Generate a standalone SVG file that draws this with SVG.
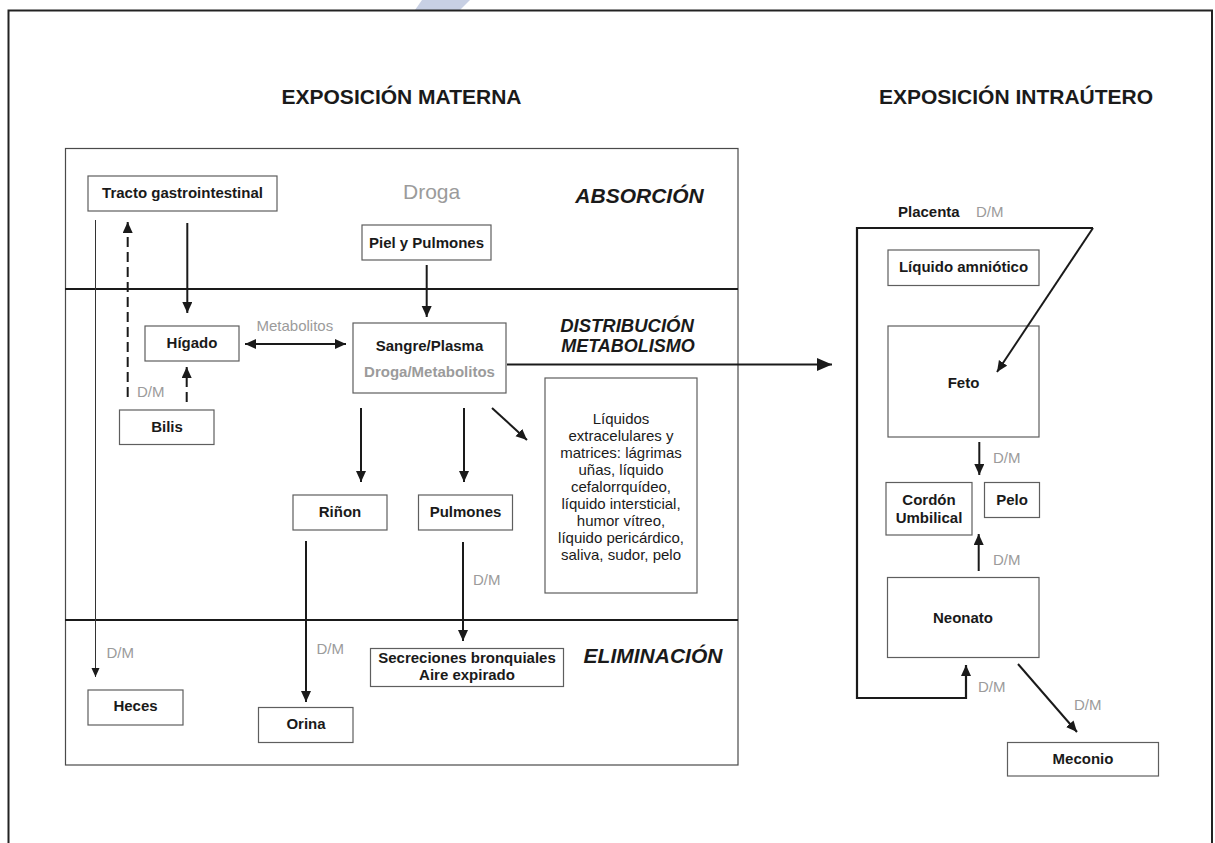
<svg xmlns="http://www.w3.org/2000/svg" width="1215" height="843" viewBox="0 0 1215 843">
<style>
  .t{font-family:"Liberation Sans",Arial,sans-serif;fill:#1a1a1a}
  .b{font-weight:bold;font-size:15px;text-anchor:middle}
  .r{font-size:15px;text-anchor:middle}
  .g{font-family:"Liberation Sans",Arial,sans-serif;fill:#9b9b9b;font-size:15px}
  .h{font-family:"Liberation Sans",Arial,sans-serif;fill:#1a1a1a;font-weight:bold;font-size:21px;text-anchor:middle}
  .sec{font-family:"Liberation Sans",Arial,sans-serif;fill:#1a1a1a;font-weight:bold;font-style:italic;text-anchor:middle}
  .box{fill:#fff;stroke:#5e5e5e;stroke-width:1.2}
  .sep{stroke:#1a1a1a;stroke-width:2;fill:none}
  .a{stroke:#1a1a1a;stroke-width:2;fill:none;marker-end:url(#ah)}
  .ad{stroke:#1a1a1a;stroke-width:2;fill:none;stroke-dasharray:10 5;marker-end:url(#ah)}
  .thin{stroke:#333;stroke-width:1;fill:none;marker-end:url(#ahs)}
</style>
<defs>
  <marker id="ah" markerUnits="userSpaceOnUse" markerWidth="12" markerHeight="12" refX="11" refY="5" orient="auto-start-reverse"><path d="M0,0 L11,5 L0,10 z" fill="#1a1a1a"/></marker>
  <marker id="ahs" markerUnits="userSpaceOnUse" markerWidth="10" markerHeight="10" refX="9" refY="4" orient="auto"><path d="M0,0 L9,4 L0,8 z" fill="#1a1a1a"/></marker>
  <marker id="ahl" markerUnits="userSpaceOnUse" markerWidth="16" markerHeight="14" refX="15" refY="6.5" orient="auto"><path d="M0,0 L15,6.5 L0,13 z" fill="#1a1a1a"/></marker>
</defs>
<rect width="1215" height="843" fill="#fff"/>
<polygon points="422,0 470,0 460,10 415,10" fill="#c8d0e4"/>
<path d="M8.5,843 V10.5 H1212 V843" stroke="#222" stroke-width="2" fill="none"/>

<text class="h" x="401.5" y="104">EXPOSICIÓN MATERNA</text>
<text class="h" x="1016" y="104">EXPOSICIÓN INTRAÚTERO</text>

<g id="maternal-frame">
  <rect x="65.5" y="148.5" width="672.5" height="616.5" fill="none" stroke="#4a4a4a" stroke-width="1.2"/>
  <line class="sep" x1="65" y1="289" x2="738" y2="289"/>
  <line class="sep" x1="65" y1="620" x2="738" y2="620"/>
  <text class="sec" x="639.5" y="203" font-size="21">ABSORCIÓN</text>
  <text class="sec" x="627" y="332" font-size="18.5">DISTRIBUCIÓN</text>
  <text class="sec" x="628" y="352" font-size="18">METABOLISMO</text>
  <text class="sec" x="653" y="663" font-size="21">ELIMINACIÓN</text>
  <text x="403" y="199" font-family="Liberation Sans, Arial, sans-serif" font-size="21" fill="#9b9b9b">Droga</text>
</g>

<g id="tracto"><rect class="box" x="88" y="176" width="189" height="35"/><text class="t b" x="182.5" y="198">Tracto gastrointestinal</text></g>
<g id="piel"><rect class="box" x="362" y="225" width="129" height="35"/><text class="t b" x="426.5" y="248">Piel y Pulmones</text></g>
<g id="higado"><rect class="box" x="145" y="326" width="94" height="35"/><text class="t b" x="192" y="348">Hígado</text></g>
<g id="bilis"><rect class="box" x="119.5" y="410" width="94.5" height="34.5"/><text class="t b" x="167" y="432">Bilis</text></g>
<g id="sangre"><rect class="box" x="353" y="323" width="153" height="70"/><text class="t b" x="429.5" y="351">Sangre/Plasma</text><text class="b" x="429.5" y="377" font-family="Liberation Sans, Arial, sans-serif" fill="#9b9b9b">Droga/Metabolitos</text></g>
<g id="rinon"><rect class="box" x="293" y="495" width="94" height="35"/><text class="t b" x="340" y="517">Riñon</text></g>
<g id="pulmones"><rect class="box" x="418.5" y="495" width="94" height="35"/><text class="t b" x="465.5" y="517">Pulmones</text></g>
<g id="liquidos"><rect class="box" x="545" y="378" width="152" height="215"/>
  <text class="t r" x="621" y="424">Líquidos</text>
  <text class="t r" x="621" y="441">extracelulares y</text>
  <text class="t r" x="621" y="458">matrices: lágrimas</text>
  <text class="t r" x="621" y="475">uñas, líquido</text>
  <text class="t r" x="621" y="492">cefalorrquídeo,</text>
  <text class="t r" x="621" y="509">líquido intersticial,</text>
  <text class="t r" x="621" y="526">humor vítreo,</text>
  <text class="t r" x="621" y="543">líquido pericárdico,</text>
  <text class="t r" x="621" y="560">saliva, sudor, pelo</text>
</g>
<g id="heces"><rect class="box" x="88" y="690" width="95" height="35"/><text class="t b" x="135.5" y="711">Heces</text></g>
<g id="orina"><rect class="box" x="258.5" y="707.5" width="94.5" height="35"/><text class="t b" x="306" y="729">Orina</text></g>
<g id="secreciones"><rect class="box" x="370.5" y="648.5" width="193" height="38"/><text class="t b" x="467" y="663">Secreciones bronquiales</text><text class="t b" x="467" y="680">Aire expirado</text></g>

<g id="placenta"><text class="t" x="898" y="217" font-weight="bold" font-size="15">Placenta</text><text class="g" x="976" y="217">D/M</text></g>
<g id="liquido-amniotico"><rect class="box" x="888" y="250" width="151" height="35.5"/><text class="t b" x="963.5" y="272">Líquido amniótico</text></g>
<g id="feto"><rect class="box" x="888" y="326" width="151" height="111"/><text class="t b" x="963.5" y="388">Feto</text></g>
<g id="cordon"><rect class="box" x="886" y="482.5" width="86" height="52.5"/><text class="t b" x="929" y="505">Cordón</text><text class="t b" x="929" y="522.5">Umbilical</text></g>
<g id="pelo"><rect class="box" x="984.5" y="482.5" width="55" height="35"/><text class="t b" x="1012" y="505">Pelo</text></g>
<g id="neonato"><rect class="box" x="887.5" y="577.5" width="151.5" height="80"/><text class="t b" x="963" y="623">Neonato</text></g>
<g id="meconio"><rect class="box" x="1007.5" y="742.5" width="151" height="33.5"/><text class="t b" x="1083" y="764">Meconio</text></g>

<g id="connectors">
  <line class="a" x1="187.3" y1="223" x2="187.3" y2="313"/>
  <line class="a" x1="426.7" y1="265" x2="426.7" y2="317"/>
  <line class="ad" x1="127.7" y1="397" x2="127.7" y2="222"/>
  <line class="ad" x1="186.7" y1="402" x2="186.7" y2="367"/>
  <line class="a" x1="245" y1="344" x2="346" y2="344" marker-start="url(#ah)"/>
  <line class="thin" x1="95.5" y1="220" x2="95.5" y2="677"/>
  <line class="a" x1="361" y1="408" x2="361" y2="482"/>
  <line class="a" x1="464" y1="408" x2="464" y2="482"/>
  <line class="a" x1="492" y1="408" x2="527" y2="440"/>
  <line class="a" x1="306" y1="541" x2="306" y2="702"/>
  <line class="a" x1="463" y1="542" x2="463" y2="641"/>
  <line x1="507" y1="364.5" x2="832" y2="364.5" stroke="#1a1a1a" stroke-width="2.2" marker-end="url(#ahl)"/>
  <path d="M1093,228 H857 V698 H966 V665" stroke="#1a1a1a" stroke-width="2.2" fill="none" marker-end="url(#ah)"/>
  <line class="a" x1="1093" y1="228" x2="997" y2="372" stroke-width="1.6"/>
  <line class="a" x1="979.3" y1="442" x2="979.3" y2="475"/>
  <line class="a" x1="978.7" y1="571" x2="978.7" y2="534"/>
  <line class="a" x1="1018" y1="664" x2="1077" y2="732"/>
  <text class="g" x="137" y="397">D/M</text>
  <text class="g" x="106.5" y="658">D/M</text>
  <text class="g" x="316.5" y="654">D/M</text>
  <text class="g" x="473" y="585">D/M</text>
  <text class="g" x="993" y="463">D/M</text>
  <text class="g" x="993" y="565">D/M</text>
  <text class="g" x="978" y="692">D/M</text>
  <text class="g" x="1074" y="710">D/M</text>
  <text class="g" x="256.5" y="331">Metabolitos</text>
</g>
</svg>
